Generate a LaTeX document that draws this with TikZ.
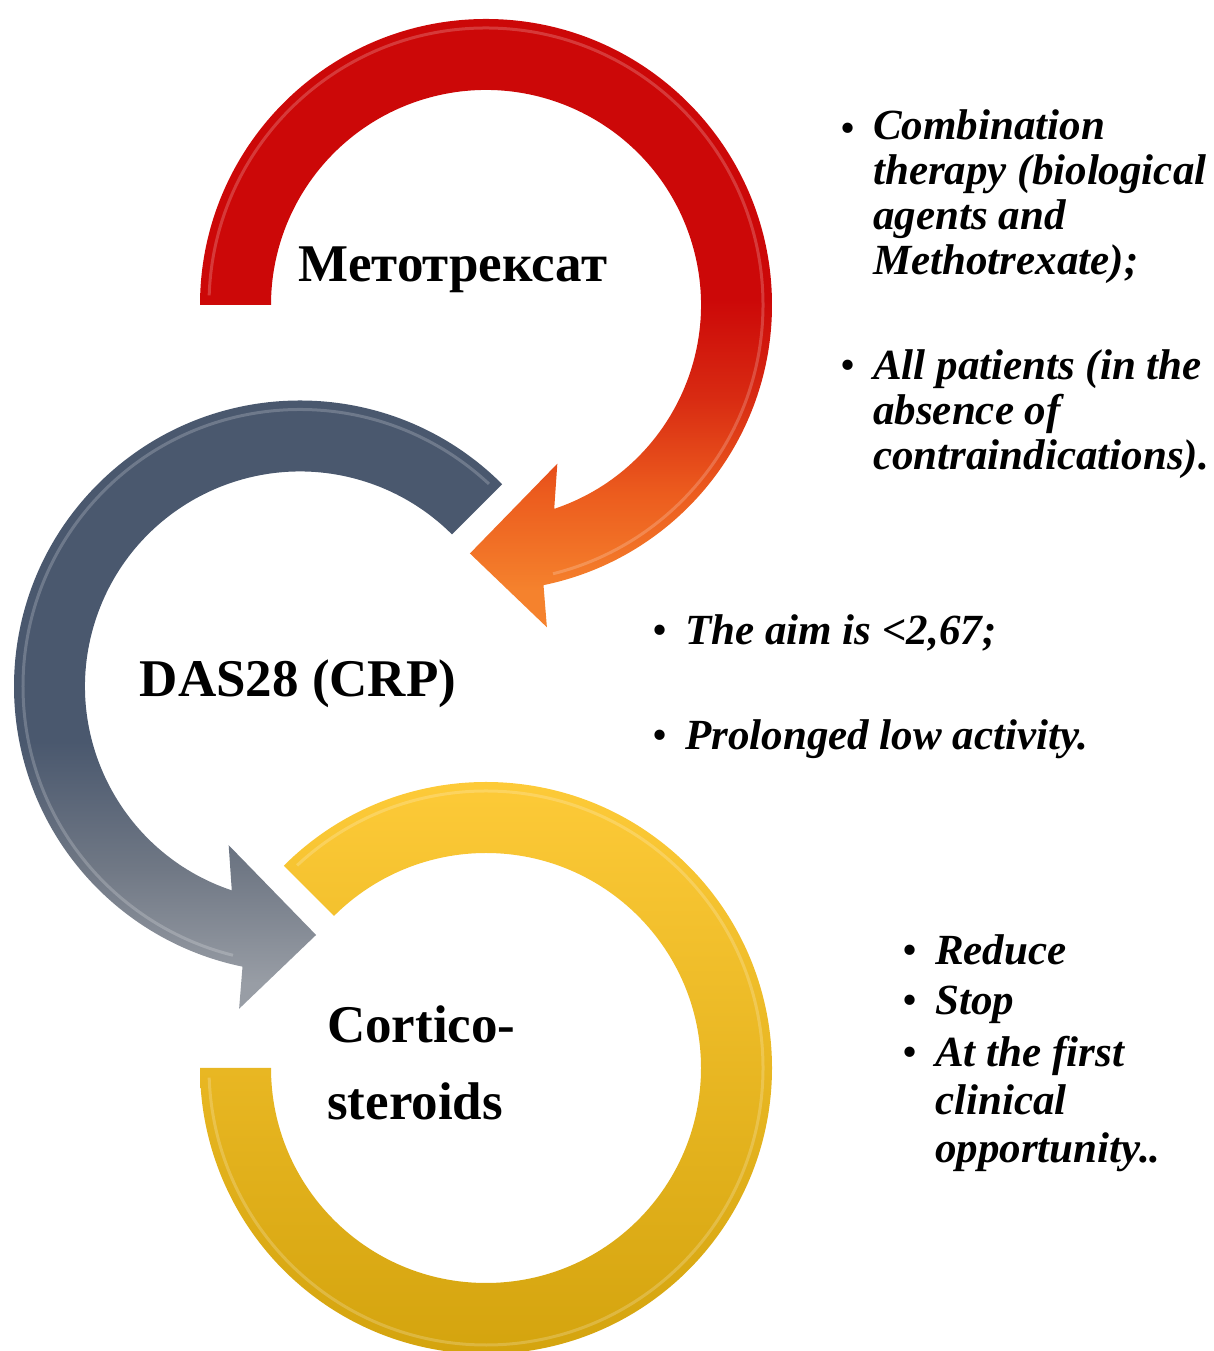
\documentclass[tikz,border=0pt]{standalone}
\usepackage{fontspec}
\setmainfont{Liberation Serif}
\usetikzlibrary{positioning, calc}

\definecolor{redA}{RGB}{204, 8, 8}
\definecolor{redB}{RGB}{216, 42, 18}
\definecolor{orangeA}{RGB}{236, 92, 30}
\definecolor{orangeB}{RGB}{245, 130, 45}
\definecolor{slate1}{RGB}{74, 88, 110}
\definecolor{slate2}{RGB}{112, 120, 133}
\definecolor{slate3}{RGB}{152, 157, 165}
\definecolor{gold1}{RGB}{255, 204, 58}
\definecolor{gold2}{RGB}{210, 162, 12}

\pgfdeclareverticalshading{redarrow}{100bp}{color(0bp)=(orangeB); color(28bp)=(orangeB); color(36bp)=(orangeA); color(44bp)=(redB); color(52bp)=(redA); color(100bp)=(redA)}
\pgfdeclareverticalshading{grayarrow}{100bp}{color(0bp)=(slate3); color(27bp)=(slate3); color(36bp)=(slate2); color(46bp)=(slate1); color(100bp)=(slate1)}

\begin{document}
\begin{tikzpicture}[x=1pt, y=1pt,
  bigword/.style={font=\fontsize{53}{77}\selectfont\bfseries, inner sep=0pt, align=left},
  dot/.style={font=\fontsize{43}{45}\selectfont, inner sep=0pt, anchor=base west},
  itemtext/.style={font=\fontsize{43}{45}\selectfont\bfseries\itshape, inner sep=0pt, align=left, anchor=base west},
  bevel/.style={white, opacity=0.2, line width=3pt}]
  \useasboundingbox (0,0) rectangle (1214,1351);
  \coordinate (redC) at (486,1046);
  \coordinate (grayC) at (300,664.5);
  \coordinate (goldC) at (486,283);

  % rings
  \shade[top color=gold1, bottom color=gold2, shift={(goldC)}]
    (135:286) arc[start angle=135, end angle=-180, radius=286]
    -- (180:215) arc[start angle=-180, end angle=135, radius=215] -- cycle;
  \shade[shading=grayarrow, shift={(grayC)}]
    (45:286) arc[start angle=45, end angle=258.4, radius=286]
    -- (259.3:328) -- (273.7:249) -- (245.8:174) -- (251.5:215)
    arc[start angle=251.5, end angle=45, radius=215] -- cycle;
  \shade[shading=redarrow, shift={(redC)}]
    (180:286) arc[start angle=180, end angle=-78.4, radius=286]
    -- (-79.3:328) -- (-93.7:249) -- (-65.8:174) -- (-71.5:215)
    arc[start angle=-71.5, end angle=180, radius=215] -- cycle;
  \draw[bevel, shift={(goldC)}] (133:277) arc[start angle=133, end angle=-178, radius=277];
  \draw[bevel, shift={(grayC)}] (47:277) arc[start angle=47, end angle=256, radius=277];
  \draw[bevel, shift={(redC)}] (178:277) arc[start angle=178, end angle=-76, radius=277];

  % multi-line nodes sit on the baseline of their last line
  \node[bigword, anchor=base] (metho) at (453,1069) {Метотрексат};
  \node[bigword, anchor=base] (das) at (298,654) {DAS28 (CRP)};
  \node[bigword, anchor=base west] (cortico) at (327,231) {Cortico-\\steroids};

  \node[dot] (dotcombi) at (840,1208) {•};
  \node[itemtext] (combi) at (873,1076) {Combination\\therapy (biological\\agents and\\Methotrexate);};
  \node[dot] (dotall) at (840,971) {•};
  \node[itemtext] (allpat) at (873,881) {All patients (in the\\absence of\\contraindications).};

  \node[dot] (dotaim) at (652,706) {•};
  \node[itemtext] (aim) at (685,706) {The aim is <2,67;};
  \node[dot] (dotlow) at (652,601) {•};
  \node[itemtext] (lowact) at (685,601) {Prolonged low activity.};

  \node[dot] (dotred) at (902,386) {•};
  \node[itemtext] (reduce) at (935,386) {Reduce};
  \node[dot] (dotstop) at (902,336) {•};
  \node[itemtext] (stop) at (935,336) {Stop};
  \node[dot] (dotfirst) at (902,284) {•};
  \node[itemtext, font=\fontsize{43}{48}\selectfont\bfseries\itshape] (first) at (935,188) {At the first\\clinical\\opportunity..};
\end{tikzpicture}
\end{document}
